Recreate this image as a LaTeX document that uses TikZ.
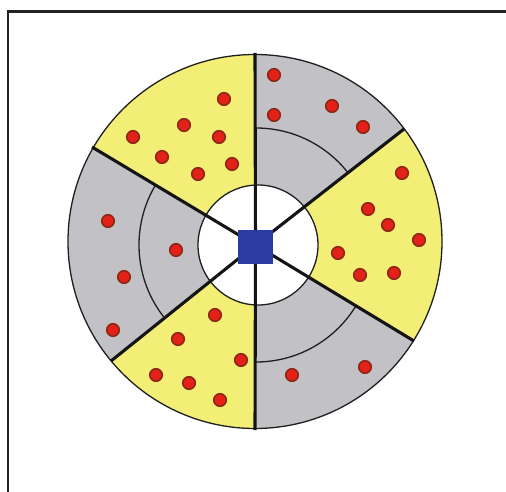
\documentclass[tikz,border=0pt]{standalone}
\usetikzlibrary{calc}
\definecolor{wyellow}{RGB}{243,238,118}
\definecolor{wgray}{RGB}{194,194,198}
\definecolor{wblue}{RGB}{42,60,160}
\definecolor{dotred}{RGB}{228,32,24}
\definecolor{dotrim}{RGB}{140,40,22}
\definecolor{framecol}{RGB}{35,35,35}
\begin{document}
\begin{tikzpicture}[x=1pt,y=-1pt,
  reddot/.style={circle,fill=dotred,draw=dotrim,line width=1.6pt,inner sep=0pt,minimum size=12.5pt},
  divider/.style={line width=3.1pt,black!92},
  thinline/.style={line width=1.3pt,black!88},
  framestyle/.style={line width=2.5pt,framecol}]
\useasboundingbox (0,0) rectangle (506,492);
% frame (cropped at right and bottom)
\coordinate (FB) at (8,492);
\coordinate (FC) at (8,11.3);
\coordinate (FR) at (506,11.3);
\draw[framestyle] (FB) -- (FC) -- (FR);
% key points
\coordinate (O) at (255,241.5);
\coordinate (C) at (255.5,245);
\coordinate (M) at (256,245);
\coordinate (I) at (258,245);
\coordinate (P1) at (255,53);
\coordinate (P2) at (404,129);
\coordinate (P3) at (414,341);
\coordinate (P4) at (255,430);
\coordinate (P5) at (111,361);
\coordinate (P6) at (92,147);
% sectors
\begin{scope}
  \clip (O) circle (187);
  \fill[wyellow] (O) circle (190);
  \fill[wgray] (C) -- ($(C)!3!(P1)$) -- ($(C)!3!(P2)$) -- cycle;
  \fill[wgray] (C) -- ($(C)!3!(P3)$) -- ($(C)!3!(P4)$) -- cycle;
  \fill[wgray] (C) -- ($(C)!3!(P5)$) -- ($(C)!3!(P6)$) -- cycle;
  \begin{scope}
    \clip (C) -- ($(C)!3!(P1)$) -- ($(C)!3!(P2)$) -- cycle;
    \draw[thinline] (M) circle (117);
  \end{scope}
  \begin{scope}
    \clip (C) -- ($(C)!3!(P3)$) -- ($(C)!3!(P4)$) -- cycle;
    \draw[thinline] (M) circle (117);
  \end{scope}
  \begin{scope}
    \clip (C) -- ($(C)!3!(P5)$) -- ($(C)!3!(P6)$) -- cycle;
    \draw[thinline] (M) circle (117);
  \end{scope}
\end{scope}
\draw[thinline] (O) circle (187);
% inner white circle
\fill[white] (I) circle (60);
\draw[thinline] (I) circle (60);
% dividers
\foreach \p in {P1,P2,P3,P4,P5,P6} \draw[divider] (C) -- (\p);
% centre square
\node[fill=wblue,inner sep=0pt,minimum width=35pt,minimum height=34pt] (sq) at (255.5,247) {};
% dots
\foreach \x/\y in {224/99,184/125,133/137,219/137,162/157,232/164,198/174,
  274/75,274/115,332/106,363/127,
  402/173,368/209,388/225,419/240,338/253,360/275,394/273,
  108/221,176/250,124/277,113/330,
  215/315,178/339,241/360,156/375,189/383,220/400,
  292/375,365/367}
  \node[reddot] at (\x,\y) {};
\end{tikzpicture}
\end{document}
